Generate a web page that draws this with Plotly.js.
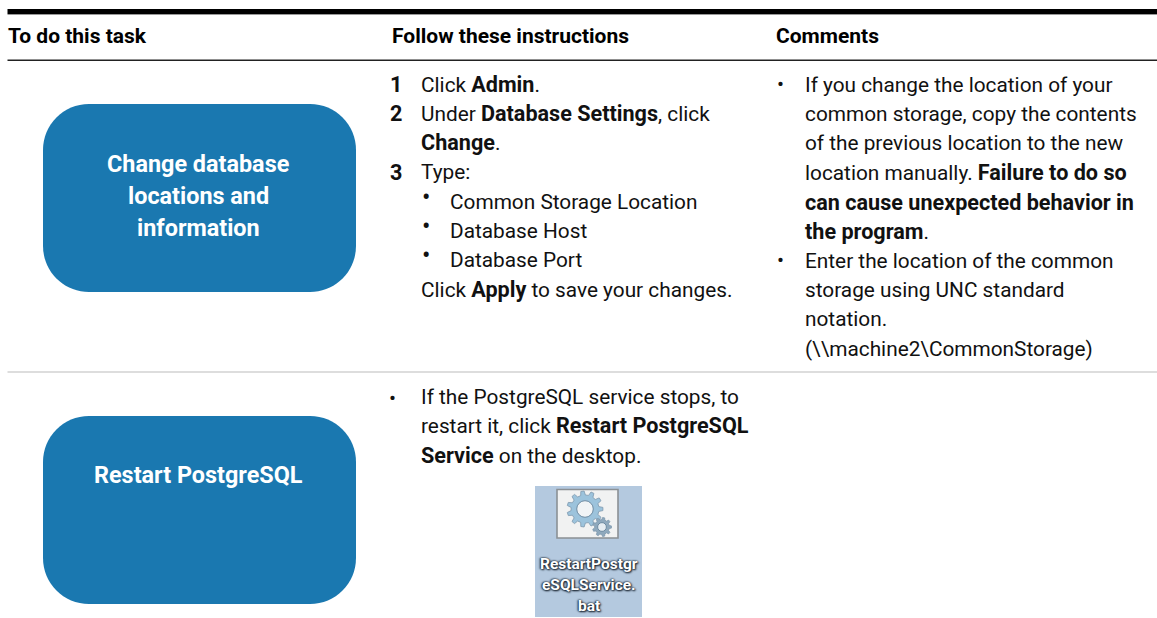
<!DOCTYPE html>
<html><head><meta charset="utf-8">
<script src="https://cdn.plot.ly/plotly-3.0.1.min.js"></script>
<style>html,body{margin:0;padding:0;background:#fff}#c{width:1157px;height:618px}</style></head>
<body><div id="c"></div>
<script>
const headers = ["To do this task","Follow these instructions","Comments"];
const taskOne = ["Change database","locations and","information"];
const taskTwo = ["Restart PostgreSQL"];
const stepsOne = ["<b>1</b>","<b>2</b>","","<b>3</b>"];
const instrOne = ["Click <b>Admin</b>.","Under <b>Database Settings</b>, click","<b>Change</b>.","Type:"];
const subItems = ["Common Storage Location","Database Host","Database Port"];
const instrEnd = "Click <b>Apply</b> to save your changes.";
const instrTwo = ["If the PostgreSQL service stops, to","restart it, click <b>Restart PostgreSQL</b>","<b>Service</b> on the desktop."];
const commentOne = ["If you change the location of your","common storage, copy the contents","of the previous location to the new","location manually. <b>Failure to do so</b>","<b>can cause unexpected behavior in</b>","<b>the program</b>."];
const commentTwo = ["Enter the location of the common","storage using UNC standard","notation.","(\\\\machine2\\CommonStorage)"];
const iconLabel = ["RestartPostgr","eSQLService.","bat"];

const FONT = "Roboto, sans-serif", FS = 20.8, FSB = 21.6, LH = 29.4, BLUE = "#1a78b0";
const annotations = [], shapes = [];
function boldify(t){ return t.replace(/<b>(.*?)<\/b>/g, '<span style="font-size:'+FSB+'px"><b>$1</b></span>'); }
function txt(x, y, text, o) {
  o = o || {};
  annotations.push({x, y, text:boldify(text), xref:"x", yref:"y", showarrow:false,
    xanchor:o.anchor||"left", yanchor:"middle", align:o.anchor||"left",
    borderpad:0, font:{family:FONT,size:o.size||FS,color:o.color||"#111"}});
}
function lines(x, y0, arr, o) { arr.forEach((t,i)=>{ if(t) txt(x, y0+i*LH, t, o); }); }
function rrect(x0,y0,x1,y1,r,fill) {
  const k=r*0.4477;
  shapes.push({type:"path",xref:"x",yref:"y",fillcolor:fill,line:{width:0},
    path:`M${x0+r},${y0} L${x1-r},${y0} C${x1-k},${y0} ${x1},${y0+k} ${x1},${y0+r} L${x1},${y1-r} C${x1},${y1-k} ${x1-k},${y1} ${x1-r},${y1} L${x0+r},${y1} C${x0+k},${y1} ${x0},${y1-k} ${x0},${y1-r} L${x0},${y0+r} C${x0},${y0+k} ${x0+k},${y0} ${x0+r},${y0} Z`});
}
function rule(y,h,c){ shapes.push({type:"rect",xref:"x",yref:"y",x0:7.5,x1:1157,y0:y,y1:y+h,fillcolor:c,line:{width:0}}); }
function gear(cx,cy,R,n,fill,hole){
  const rIn=R*0.78, pts=[];
  for(let i=0;i<n;i++){
    const a=i/n*2*Math.PI, s=2*Math.PI/n;
    [[-0.3,rIn],[-0.16,R],[0.16,R],[0.3,rIn]].forEach(p=>{
      const b=a+p[0]*s; pts.push((cx+p[1]*Math.cos(b)).toFixed(1)+","+(cy+p[1]*Math.sin(b)).toFixed(1));
    });
  }
  shapes.push({type:"path",xref:"x",yref:"y",fillcolor:fill,line:{color:"#7d98ad",width:0.8},path:"M"+pts.join(" L")+" Z"});
  shapes.push({type:"circle",xref:"x",yref:"y",x0:cx-R*0.46,x1:cx+R*0.46,y0:cy-R*0.46,y1:cy+R*0.46,fillcolor:hole,line:{color:"#6f8ca3",width:1}});
}

rule(9,5,"#000"); rule(14,1,"#999");
rule(59.5,1.4,"#222"); rule(371.5,1,"#bbb");

[7,391,775].forEach((x,i)=>annotations.push({x,y:36,text:"<b>"+headers[i]+"</b>",xref:"x",yref:"y",showarrow:false,xanchor:"left",yanchor:"middle",align:"left",borderpad:0,font:{family:FONT,size:21,color:"#000"}}));

rrect(43,104,356,292,46,BLUE);
rrect(43,416,356,604,46,BLUE);
const BOX = 23.4;
function boxTxt(y,t){ annotations.push({x:198,y,text:"<b>"+t+"</b>",xref:"x",yref:"y",showarrow:false,xanchor:"center",yanchor:"middle",align:"center",borderpad:0,font:{family:FONT,size:BOX,color:"#fff"}}); }
taskOne.forEach((t,i)=>boxTxt(163.5+i*32,t));
boxTxt(475,taskTwo[0]);

lines(389,84,stepsOne);
lines(420,84,instrOne);
subItems.forEach((t,i)=>{ txt(421,197+i*LH,"•",{size:25}); txt(449,201.5+i*LH,t); });
txt(420,289.5,instrEnd);

txt(388,398,"•");
lines(420,396.5,instrTwo);

txt(776,84,"•");
lines(804,84.5,commentOne);
txt(776,260,"•");
lines(804,260.5,commentTwo);

// icon
shapes.push({type:"rect",xref:"x",yref:"y",x0:535,x1:642,y0:486,y1:617,fillcolor:"#b4c9df",line:{width:0}});
shapes.push({type:"rect",xref:"x",yref:"y",x0:557,x1:618,y0:489.5,y1:538,fillcolor:"#f1f2f2",line:{color:"#8b9094",width:1.6}});
gear(585,509,18,11,"#9cc3dc","#f1f4f6");
gear(602,527,9.5,9,"#8fa9bd","#e6edf2");
iconLabel.forEach((t,i)=>{
  annotations.push({x:588.5,y:563.5+i*21,text:'<b>'+t+'</b>',
    xref:"x",yref:"y",showarrow:false,xanchor:"center",yanchor:"middle",align:"center",borderpad:0,
    font:{family:FONT,size:15.5,color:"#fff",shadow:"0 0 2px #16202c, 1px 1px 2px #16202c, -1px 0 2px #2a3a4a"}});
});

Plotly.newPlot("c",[],{
  width:1157,height:618,margin:{l:0,r:0,t:0,b:0},
  paper_bgcolor:"#fff",plot_bgcolor:"#fff",showlegend:false,
  xaxis:{range:[0,1157],visible:false,fixedrange:true},
  yaxis:{range:[618,0],visible:false,fixedrange:true},
  shapes,annotations
},{staticPlot:true,displayModeBar:false});
</script></body></html>
